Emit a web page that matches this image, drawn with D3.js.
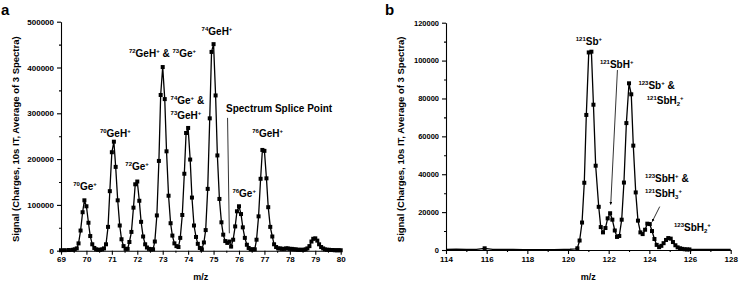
<!DOCTYPE html>
<html>
<head>
<meta charset="utf-8">
<script src="https://cdn.jsdelivr.net/npm/d3@7"></script>
<style>
  body { margin: 0; background: #fff; }
  svg { font-family: Arial, "Liberation Sans", sans-serif; font-weight: bold; }
</style>
</head>
<body>
<div id="chart"></div>
<script>
const WIDTH = 739;
const HEIGHT = 284;

// panel a : Ge spectrum
const geMz = [69.00, 69.15, 69.31, 69.46, 69.54, 69.62, 69.69, 69.77, 69.85, 69.92,
  70.00, 70.08, 70.15, 70.23, 70.31, 70.38, 70.46, 70.54, 70.62, 70.69,
  70.77, 70.85, 70.92, 71.00, 71.08, 71.15, 71.23, 71.31, 71.38, 71.46,
  71.54, 71.62, 71.69, 71.77, 71.85, 71.92, 72.00, 72.08, 72.15, 72.23,
  72.31, 72.38, 72.46, 72.54, 72.62, 72.69, 72.77, 72.85, 72.92, 73.00,
  73.08, 73.15, 73.23, 73.31, 73.38, 73.46, 73.54, 73.62, 73.69, 73.77,
  73.85, 73.92, 74.00, 74.08, 74.15, 74.23, 74.31, 74.38, 74.46, 74.54,
  74.62, 74.69, 74.77, 74.85, 74.92, 75.00, 75.08, 75.15, 75.23, 75.31,
  75.38, 75.46, 75.54, 75.62, 75.69, 75.77, 75.85, 75.92, 76.00, 76.08,
  76.15, 76.23, 76.31, 76.38, 76.46, 76.54, 76.62, 76.69, 76.77, 76.85,
  76.92, 77.00, 77.08, 77.15, 77.23, 77.31, 77.38, 77.46, 77.54, 77.62,
  77.69, 77.77, 77.85, 77.92, 78.00, 78.08, 78.15, 78.23, 78.31, 78.38,
  78.46, 78.54, 78.62, 78.69, 78.77, 78.85, 78.92, 79.00, 79.08, 79.15,
  79.23, 79.31, 79.38, 79.46, 79.54, 79.62, 79.69, 79.77, 79.85, 79.92, 80.00];
const geSignal = [1000, 1200, 1500, 2000, 3000, 5000, 16000, 44000, 84000, 110000,
  97000, 61000, 32000, 14000, 6000, 3000, 2000, 2000, 3000, 5000,
  14000, 52000, 130000, 215000, 238000, 183000, 110000, 55000, 25000, 10000,
  4000, 4000, 19000, 41000, 94000, 145000, 151000, 109000, 63000, 31000,
  14000, 7000, 4000, 3000, 3000, 20000, 77000, 196000, 340000, 401000,
  331000, 217000, 120000, 60000, 33000, 16000, 10000, 8000, 28000, 78000,
  168000, 257000, 268000, 199000, 116000, 55000, 30000, 15000, 6000, 3000,
  18000, 45000, 135000, 289000, 434000, 451000, 339000, 208000, 113000, 62000,
  35000, 21000, 17000, 20000, 9000, 24000, 53000, 86000, 97000, 80000,
  51000, 28000, 13000, 6000, 3000, 3000, 3000, 24000, 75000, 157000,
  220000, 218000, 158000, 95000, 52000, 31000, 14000, 8000, 5000, 5000,
  4000, 4000, 5000, 5000, 4000, 4000, 3000, 3000, 2000, 2000,
  2000, 2000, 3000, 5000, 10000, 20000, 26000, 27000, 22000, 14000,
  8000, 5000, 3000, 2000, 2000, 1500, 1500, 1000, 1000, 1000, 1000];

// panel b : Sb spectrum
const sbMz = [114.0, 114.5, 115.0, 115.5, 115.9, 116.3, 116.8, 117.3, 117.8, 118.3,
  118.8, 119.3, 119.8, 120.1, 120.35, 120.46, 120.57, 120.69, 120.80, 120.90,
  121.02, 121.15, 121.25, 121.36, 121.51, 121.61, 121.72, 121.84, 121.95, 122.07,
  122.18, 122.30, 122.41, 122.52, 122.64, 122.75, 122.87, 123.00, 123.11, 123.21,
  123.33, 123.44, 123.56, 123.67, 123.79, 123.90, 124.02, 124.13, 124.25, 124.36,
  124.48, 124.59, 124.70, 124.82, 124.93, 125.05, 125.16, 125.28, 125.39, 125.51,
  125.62, 125.74, 125.85, 125.97, 126.5, 127.0, 127.5, 128.0];
const sbSignal = [300, 400, 300, 300, 900, 300, 300, 300, 200, 200,
  200, 200, 300, 400, 600, 900, 5000, 14500, 35500, 71300,
  104300, 104700, 76700, 44500, 22800, 12100, 9300, 11600, 16700, 19400,
  16000, 10300, 6900, 7400, 16000, 35600, 67000, 88000, 82200, 55100,
  30400, 15500, 9300, 8400, 10700, 13900, 13700, 10000, 5800, 2700,
  1500, 2200, 3600, 5300, 6300, 6000, 4200, 2500, 1400, 900,
  600, 400, 300, 300, 300, 300, 300, 300];
const sbMarked = [115.9];
const sbMarkedRange = [120.4, 126.0];

// ticks
const geXTicks = [69, 70, 71, 72, 73, 74, 75, 76, 77, 78, 79, 80];
const geYTicks = [0, 100000, 200000, 300000, 400000, 500000];
const sbXTicks = [114, 116, 118, 120, 122, 124, 126, 128];
const sbYTicks = [0, 20000, 40000, 60000, 80000, 100000, 120000];

// annotation labels [mz, signal, parts]
const geLabels = [
  [69.48, 132000, [["70", "sup"], ["Ge", "n"], ["+", "sup"]]],
  [70.53, 249000, [["70", "sup"], ["GeH", "n"], ["+", "sup"]]],
  [71.53, 176000, [["72", "sup"], ["Ge", "n"], ["+", "sup"]]],
  [71.67, 422000, [["72", "sup"], ["GeH", "n"], ["+", "sup"], [" & ", "n"], ["73", "sup"], ["Ge", "n"], ["+", "sup"]]],
  [73.31, 320000, [["74", "sup"], ["Ge", "n"], ["+", "sup"], [" &", "n"]]],
  [73.31, 287000, [["73", "sup"], ["GeH", "n"], ["+", "sup"]]],
  [74.53, 471000, [["74", "sup"], ["GeH", "n"], ["+", "sup"]]],
  [75.49, 302000, [["Spectrum Splice Point", "n"]]],
  [75.74, 117000, [["76", "sup"], ["Ge", "n"], ["+", "sup"]]],
  [76.52, 248000, [["76", "sup"], ["GeH", "n"], ["+", "sup"]]]
];
const sbLabels = [
  [120.38, 108000, [["121", "sup"], ["Sb", "n"], ["+", "sup"]]],
  [121.57, 96000, [["121", "sup"], ["SbH", "n"], ["+", "sup"]]],
  [123.46, 85000, [["123", "sup"], ["Sb", "n"], ["+", "sup"], [" &", "n"]]],
  [123.87, 77000, [["121", "sup"], ["SbH", "n"], ["2", "sub"], ["+", "sup"]]],
  [123.79, 36000, [["123", "sup"], ["SbH", "n"], ["+", "sup"], [" &", "n"]]],
  [123.79, 28000, [["121", "sup"], ["SbH", "n"], ["3", "sub"], ["+", "sup"]]],
  [125.21, 10000, [["123", "sup"], ["SbH", "n"], ["2", "sub"], ["+", "sup"]]]
];
// pointer lines [mz1, sig1, mz2, sig2]
const geSplice = [[75.55, 290000, 75.62, 38000]];
const sbArrows = [[122.43, 95000, 122.10, 24000], [124.51, 22900, 124.14, 15000]];

const svg = d3.select("#chart").append("svg")
  .attr("width", WIDTH).attr("height", HEIGHT);

svg.append("defs").append("marker")
  .attr("id", "arrow")
  .attr("viewBox", "0 0 10 10")
  .attr("refX", 9).attr("refY", 5)
  .attr("markerWidth", 4).attr("markerHeight", 4)
  .attr("orient", "auto")
  .append("path").attr("d", "M0,0 L10,5 L0,10 z").attr("fill", "#000");

function richText(g, x, y, parts) {
  const t = g.append("text").attr("x", x).attr("y", y).attr("fill", "#000");
  let shift = 0;
  parts.forEach(([s, k]) => {
    const target = k === "sup" ? -4 : (k === "sub" ? 2 : 0);
    t.append("tspan")
      .attr("dy", target - shift)
      .attr("font-size", k === "n" ? 10 : 6)
      .text(s);
    shift = target;
  });
}

function drawPanel(p) {
  const x = d3.scaleLinear().domain(p.xDomain).range(p.xRange);
  const y = d3.scaleLinear().domain(p.yDomain).range(p.yRange);
  const g = svg.append("g");

  // minor ticks first
  g.append("g").attr("transform", `translate(0,${p.yRange[0]})`)
    .call(d3.axisBottom(x).tickValues(p.xMinor).tickSize(2).tickFormat(""))
    .call(a => a.select(".domain").remove());
  g.append("g").attr("transform", `translate(${p.xRange[0]},0)`)
    .call(d3.axisLeft(y).tickValues(p.yMinor).tickSize(2).tickFormat(""))
    .call(a => a.select(".domain").remove());

  const xa = g.append("g").attr("transform", `translate(0,${p.yRange[0]})`)
    .call(d3.axisBottom(x).tickValues(p.xTicks).tickSize(4).tickSizeOuter(0).tickPadding(2).tickFormat(d3.format("d")));
  xa.selectAll("text").attr("font-size", 8).attr("font-family", null).attr("font-weight", "bold");
  const ya = g.append("g").attr("transform", `translate(${p.xRange[0]},0)`)
    .call(d3.axisLeft(y).tickValues(p.yTicks).tickSize(4).tickSizeOuter(0).tickPadding(3).tickFormat(d3.format("d")));
  ya.selectAll("text").attr("font-size", p.tickFont).attr("font-family", null).attr("font-weight", "bold");
  g.selectAll(".domain, .tick line").attr("stroke", "#000").attr("stroke-width", 1.1);

  const pts = p.mz.map((m, i) => [m, p.sig[i]]);
  g.append("path").datum(pts)
    .attr("fill", "none").attr("stroke", "#000").attr("stroke-width", 1.3)
    .attr("d", d3.line().x(d => x(d[0])).y(d => y(d[1])));

  g.selectAll("rect.pt").data(pts.filter(p.marked)).enter().append("rect")
    .attr("class", "pt")
    .attr("x", d => x(d[0]) - 2).attr("y", d => y(d[1]) - 2)
    .attr("width", 4).attr("height", 4).attr("fill", "#000");

  p.labels.forEach(([m, s, parts]) => richText(g, x(m), y(s), parts));

  p.pointers.forEach(([m1, s1, m2, s2]) => {
    g.append("line")
      .attr("x1", x(m1)).attr("y1", y(s1)).attr("x2", x(m2)).attr("y2", y(s2))
      .attr("stroke", "#000").attr("stroke-width", 0.8)
      .attr("marker-end", p.arrow ? "url(#arrow)" : null);
  });

  // axis titles
  g.append("text")
    .attr("transform", `translate(${p.titleX},${(p.yRange[0] + p.yRange[1]) / 2 + 3}) rotate(-90)`)
    .attr("text-anchor", "middle").attr("font-size", 9.5)
    .text("Signal (Charges, 10s IT, Average of 3 Spectra)");
  g.append("text")
    .attr("x", (p.xRange[0] + p.xRange[1]) / 2).attr("y", 280)
    .attr("text-anchor", "middle").attr("font-size", 9)
    .text("m/z");
  g.append("text")
    .attr("x", p.letterX).attr("y", 15)
    .attr("font-size", 15)
    .text(p.letter);
}

drawPanel({
  mz: geMz, sig: geSignal,
  xDomain: [69, 80], xRange: [61, 340.7],
  yDomain: [0, 500000], yRange: [250.7, 21.7],
  xTicks: geXTicks, yTicks: geYTicks,
  xMinor: d3.range(69.5, 80, 1), yMinor: d3.range(50000, 500000, 100000),
  tickFont: 8,
  marked: () => true,
  labels: geLabels, pointers: geSplice, arrow: false,
  titleX: 19, letter: "a", letterX: 1
});

drawPanel({
  mz: sbMz, sig: sbSignal,
  xDomain: [114, 128], xRange: [446, 730.7],
  yDomain: [0, 120000], yRange: [250, 22.7],
  xTicks: sbXTicks, yTicks: sbYTicks,
  xMinor: d3.range(115, 128, 2), yMinor: d3.range(10000, 120000, 20000),
  tickFont: 7.5,
  marked: d => sbMarked.includes(d[0]) || (d[0] >= sbMarkedRange[0] && d[0] <= sbMarkedRange[1]),
  labels: sbLabels, pointers: sbArrows, arrow: true,
  titleX: 404, letter: "b", letterX: 385
});
</script>
</body>
</html>
